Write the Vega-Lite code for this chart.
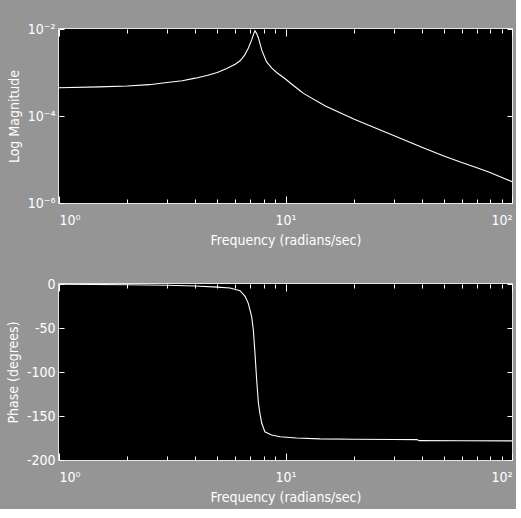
{
  "$schema": "https://vega.github.io/schema/vega-lite/v6.json",
  "background": "#959595",
  "padding": {"left": 5, "top": 21, "right": 2, "bottom": 4},
  "bounds": "flush",
  "spacing": 81,
  "datasets": {
    "mag": [
      {"w": 1, "m": 4.47e-4}, {"w": 1.5, "m": 4.68e-4}, {"w": 2, "m": 4.9e-4}, {"w": 2.5, "m": 5.25e-4},
      {"w": 3, "m": 5.89e-4}, {"w": 3.5, "m": 6.46e-4}, {"w": 4, "m": 7.41e-4}, {"w": 4.5, "m": 8.51e-4},
      {"w": 5, "m": 1.0e-3}, {"w": 5.5, "m": 1.23e-3}, {"w": 6, "m": 1.55e-3}, {"w": 6.3, "m": 1.86e-3},
      {"w": 6.6, "m": 2.51e-3}, {"w": 6.85, "m": 3.63e-3}, {"w": 7.09, "m": 5.62e-3}, {"w": 7.25, "m": 7.94e-3},
      {"w": 7.33, "m": 9.12e-3}, {"w": 7.45, "m": 7.94e-3}, {"w": 7.59, "m": 6.31e-3}, {"w": 7.85, "m": 3.31e-3},
      {"w": 8.24, "m": 1.78e-3}, {"w": 8.7, "m": 1.26e-3}, {"w": 9.14, "m": 1.0e-3}, {"w": 10, "m": 7.08e-4},
      {"w": 10.5, "m": 5.75e-4}, {"w": 11.6, "m": 3.8e-4}, {"w": 12, "m": 3.31e-4}, {"w": 15, "m": 1.7e-4},
      {"w": 20, "m": 8.51e-5}, {"w": 30, "m": 3.55e-5}, {"w": 40, "m": 1.91e-5}, {"w": 50, "m": 1.2e-5},
      {"w": 60, "m": 8.51e-6}, {"w": 70, "m": 6.46e-6}, {"w": 80, "m": 5.01e-6}, {"w": 100, "m": 3.09e-6}
    ],
    "phase": [
      {"w": 1, "p": -0.3}, {"w": 2, "p": -0.8}, {"w": 3, "p": -1.4}, {"w": 4, "p": -2.3}, {"w": 5, "p": -3.5},
      {"w": 5.69, "p": -4.6}, {"w": 6.3, "p": -7.6}, {"w": 6.63, "p": -14}, {"w": 6.85, "p": -22},
      {"w": 7.09, "p": -37}, {"w": 7.21, "p": -52}, {"w": 7.33, "p": -78}, {"w": 7.46, "p": -109},
      {"w": 7.59, "p": -135}, {"w": 7.71, "p": -147}, {"w": 7.85, "p": -158}, {"w": 8.11, "p": -168},
      {"w": 8.68, "p": -171.6}, {"w": 9.46, "p": -173.5}, {"w": 11.2, "p": -175}, {"w": 14.2, "p": -176},
      {"w": 20, "p": -176.5}, {"w": 30, "p": -176.7}, {"w": 38, "p": -176.8}, {"w": 39, "p": -178},
      {"w": 60, "p": -178.1}, {"w": 100, "p": -178.3}
    ]
  },
  "vconcat": [
    {
      "width": 453,
      "height": 174,
      "data": {"name": "mag"},
      "layer": [
        {
          "mark": {"type": "rect", "color": "black"},
          "encoding": {
            "x": {"datum": 1, "type": "quantitative", "scale": {"type": "log", "domain": [1, 100], "nice": false}, "axis": null},
            "x2": {"datum": 100},
            "y": {"datum": 1e-6, "type": "quantitative", "scale": {"type": "log", "domain": [1e-6, 1e-2], "nice": false}, "axis": null},
            "y2": {"datum": 1e-2}
          }
        },
        {
          "mark": {"type": "line", "color": "white", "strokeWidth": 1.1, "clip": true},
          "encoding": {
            "x": {
              "field": "w", "type": "quantitative",
              "scale": {"type": "log", "domain": [1, 100], "nice": false},
              "axis": {
                "orient": "bottom", "zindex": 3, "offset": -7, "tickSize": 7, "tickColor": "white", "ticks": true,
                "values": [1, 10, 100],
                "labelExpr": "datum.value == 1 ? '10⁰' : datum.value == 10 ? '10¹' : '10²'",
                "title": "Frequency (radians/sec)",
                "labelPadding": 10
              }
            },
            "y": {
              "field": "m", "type": "quantitative",
              "scale": {"type": "log", "domain": [1e-6, 1e-2], "nice": false},
              "axis": {
                "orient": "left", "zindex": 3, "offset": -5, "tickSize": 5, "tickColor": "white", "ticks": true,
                "values": [1e-6, 1e-4, 1e-2],
                "labelExpr": "round(log(datum.value)/LN10) == -2 ? '10⁻²' : round(log(datum.value)/LN10) == -4 ? '10⁻⁴' : '10⁻⁶'",
                "title": "Log Magnitude",
                "labelPadding": 4
              }
            }
          }
        },
        {
          "mark": {"type": "line", "opacity": 0},
          "encoding": {
            "x": {
              "field": "w", "type": "quantitative",
              "scale": {"type": "log", "domain": [1, 100], "nice": false},
              "axis": {"orient": "bottom", "zindex": 3, "offset": -4, "tickSize": 4, "tickColor": "white", "ticks": true, "values": [2,3,4,5,6,7,8,9,20,30,40,50,60,70,80,90], "labels": false, "title": null}
            },
            "y": {
              "field": "m", "type": "quantitative",
              "scale": {"type": "log", "domain": [1e-6, 1e-2], "nice": false},
              "axis": {"orient": "right", "zindex": 3, "offset": -5, "tickSize": 5, "tickColor": "white", "ticks": true, "values": [1e-6, 1e-4, 1e-2], "labels": false, "title": null}
            }
          }
        },
        {
          "mark": {"type": "line", "opacity": 0},
          "encoding": {
            "x": {
              "field": "w", "type": "quantitative",
              "scale": {"type": "log", "domain": [1, 100], "nice": false},
              "axis": {"orient": "top", "zindex": 3, "offset": -7, "tickSize": 7, "tickColor": "white", "ticks": true, "values": [1, 10, 100], "labels": false, "title": null}
            },
            "y": {"field": "m", "type": "quantitative", "scale": {"type": "log", "domain": [1e-6, 1e-2], "nice": false}, "axis": null}
          }
        },
        {
          "mark": {"type": "line", "opacity": 0},
          "encoding": {
            "x": {
              "field": "w", "type": "quantitative",
              "scale": {"type": "log", "domain": [1, 100], "nice": false},
              "axis": {"orient": "top", "zindex": 3, "offset": -4, "tickSize": 4, "tickColor": "white", "ticks": true, "values": [2,3,4,5,6,7,8,9,20,30,40,50,60,70,80,90], "labels": false, "title": null}
            },
            "y": {"field": "m", "type": "quantitative", "scale": {"type": "log", "domain": [1e-6, 1e-2], "nice": false}, "axis": null}
          }
        }
      ],
      "resolve": {"axis": {"x": "independent", "y": "independent"}}
    },
    {
      "width": 453,
      "height": 176,
      "data": {"name": "phase"},
      "layer": [
        {
          "mark": {"type": "rect", "color": "black"},
          "encoding": {
            "x": {"datum": 1, "type": "quantitative", "scale": {"type": "log", "domain": [1, 100], "nice": false}, "axis": null},
            "x2": {"datum": 100},
            "y": {"datum": -200, "type": "quantitative", "scale": {"domain": [-200, 0], "nice": false}, "axis": null},
            "y2": {"datum": 0}
          }
        },
        {
          "mark": {"type": "line", "color": "white", "strokeWidth": 1.1, "clip": true},
          "encoding": {
            "x": {
              "field": "w", "type": "quantitative",
              "scale": {"type": "log", "domain": [1, 100], "nice": false},
              "axis": {
                "orient": "bottom", "zindex": 3, "offset": -7, "tickSize": 7, "tickColor": "white", "ticks": true,
                "values": [1, 10, 100],
                "labelExpr": "datum.value == 1 ? '10⁰' : datum.value == 10 ? '10¹' : '10²'",
                "title": "Frequency (radians/sec)",
                "labelPadding": 10
              }
            },
            "y": {
              "field": "p", "type": "quantitative",
              "scale": {"domain": [-200, 0], "nice": false},
              "axis": {
                "orient": "left", "zindex": 3, "offset": -5, "tickSize": 5, "tickColor": "white", "ticks": true,
                "values": [-200, -150, -100, -50, 0],
                "labelExpr": "'' + datum.value",
                "title": "Phase (degrees)",
                "labelPadding": 4
              }
            }
          }
        },
        {
          "mark": {"type": "line", "opacity": 0},
          "encoding": {
            "x": {
              "field": "w", "type": "quantitative",
              "scale": {"type": "log", "domain": [1, 100], "nice": false},
              "axis": {"orient": "bottom", "zindex": 3, "offset": -4, "tickSize": 4, "tickColor": "white", "ticks": true, "values": [2,3,4,5,6,7,8,9,20,30,40,50,60,70,80,90], "labels": false, "title": null}
            },
            "y": {
              "field": "p", "type": "quantitative",
              "scale": {"domain": [-200, 0], "nice": false},
              "axis": {"orient": "right", "zindex": 3, "offset": -5, "tickSize": 5, "tickColor": "white", "ticks": true, "values": [-200, -150, -100, -50, 0], "labels": false, "title": null}
            }
          }
        },
        {
          "mark": {"type": "line", "opacity": 0},
          "encoding": {
            "x": {
              "field": "w", "type": "quantitative",
              "scale": {"type": "log", "domain": [1, 100], "nice": false},
              "axis": {"orient": "top", "zindex": 3, "offset": -7, "tickSize": 7, "tickColor": "white", "ticks": true, "values": [1, 10, 100], "labels": false, "title": null}
            },
            "y": {"field": "p", "type": "quantitative", "scale": {"domain": [-200, 0], "nice": false}, "axis": null}
          }
        },
        {
          "mark": {"type": "line", "opacity": 0},
          "encoding": {
            "x": {
              "field": "w", "type": "quantitative",
              "scale": {"type": "log", "domain": [1, 100], "nice": false},
              "axis": {"orient": "top", "zindex": 3, "offset": -4, "tickSize": 4, "tickColor": "white", "ticks": true, "values": [2,3,4,5,6,7,8,9,20,30,40,50,60,70,80,90], "labels": false, "title": null}
            },
            "y": {"field": "p", "type": "quantitative", "scale": {"domain": [-200, 0], "nice": false}, "axis": null}
          }
        }
      ],
      "resolve": {"axis": {"x": "independent", "y": "independent"}}
    }
  ],
  "config": {
    "view": {"stroke": "white", "strokeWidth": 1.5},
    "axis": {
      "domain": false,
      "grid": false,
      "labelColor": "white",
      "titleColor": "white",
      "labelFont": "Liberation Sans Narrow, DejaVu Sans Condensed, sans-serif",
      "titleFont": "Liberation Sans Narrow, DejaVu Sans Condensed, sans-serif",
      "labelFontSize": 14,
      "titleFontSize": 14,
      "titleFontWeight": "normal",
      "titlePadding": 6
    }
  }
}
